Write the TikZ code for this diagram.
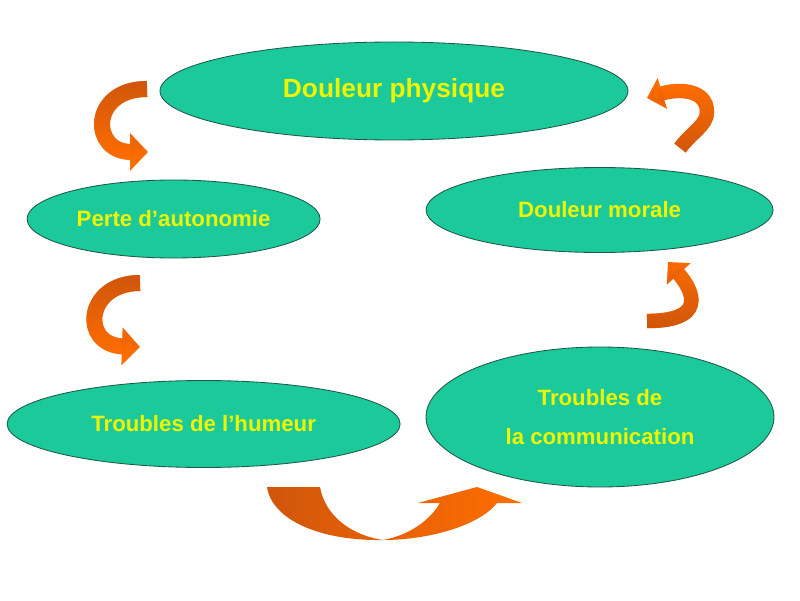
\documentclass[tikz,border=0pt]{standalone}
\usepackage{fontspec}
\setmainfont{Liberation Sans}
\usetikzlibrary{shapes.geometric, arrows.meta, fadings}
\definecolor{ovalfill}{HTML}{1CC99A}
\definecolor{ovalframe}{HTML}{1E5A4A}
\definecolor{ovaltext}{HTML}{EEF500}
\definecolor{arrdark}{HTML}{D0560C}
\definecolor{arrlight}{HTML}{FF6E00}
\newcommand{\ovalfont}{\bfseries}
\tikzfading[name=fadedown, top color=transparent!0, bottom color=transparent!100]
\tikzfading[name=fadeup, top color=transparent!100, bottom color=transparent!0]
\tikzset{
  oval/.style={
    ellipse,
    draw=ovalframe,
    fill=ovalfill,
    line width=0.6pt,
    inner sep=0pt,
    align=center,
    text=ovaltext,
    font=\fontsize{15.8}{28.3}\selectfont\ovalfont
  },
  bigoval/.style={oval, font=\fontsize{18.7}{22}\selectfont\ovalfont},
  curvarr/.style={arrlight, line width=0.4cm, -{Triangle[length=0.45cm, width=0.92cm]},
    postaction={draw, arrdark, path fading=#1}},
  smallarr/.style={curvarr=#1, line width=0.36cm, -{Triangle[length=0.4cm, width=0.78cm]}}
}

\begin{document}
\begin{tikzpicture}

  \fill[white] (0,0) rectangle (20,15);
  \useasboundingbox (0,0) rectangle (20,15);

  \node[bigoval, minimum width=11.7cm, minimum height=2.45cm] (phys) at (9.85,12.725) {Douleur physique};
  \node[oval, minimum width=7.325cm, minimum height=1.95cm] (auto) at (4.34,9.525) {Perte d’autonomie};
  \node[oval, minimum width=8.675cm, minimum height=2.125cm] (morale) at (14.99,9.75) {Douleur morale};
  \node[oval, minimum width=9.825cm, minimum height=2.175cm] (humeur) at (5.09,4.4) {Troubles de l’humeur};
  \node[oval, minimum width=8.7cm, minimum height=3.5cm] (comm) at (15.0,4.575) {Troubles de\\la communication};

  % curved arrows round the loop
  \coordinate (a1s) at (3.675,12.775);
  \coordinate (a1e) at (3.7,11.2);
  \draw[curvarr=fadedown] (a1s) .. controls (2.25,12.775) and (2.25,11.2) .. (a1e);

  \coordinate (a2s) at (3.5,7.925);
  \coordinate (a2e) at (3.5,6.325);
  \draw[curvarr=fadedown] (a2s) .. controls (2.125,7.925) and (2.0,6.375) .. (a2e);

  \coordinate (a4s) at (16.175,6.975);
  \coordinate (a4e) at (16.7,8.45);
  \draw[smallarr=fadeup] (a4s) .. controls (17.9,6.975) and (17.15,7.95) .. (a4e);

  \coordinate (a5s) at (17.0,11.3);
  \coordinate (a5m) at (17.675,12.2);
  \coordinate (a5e) at (16.175,12.55);
  \draw[smallarr=fadeup] (a5s) .. controls (17.3,11.7) and (17.675,11.875) .. (a5m)
    .. controls (17.675,12.75) and (17.0,12.8) .. (a5e);

  % bottom swoosh, humeur -> communication
  \shade[left color=arrdark, right color=arrlight]
    (6.675,2.825) -- (8.0,2.825)
    .. controls (8.125,2.125) and (8.75,1.625) .. (9.575,1.5)
    .. controls (10.25,1.625) and (10.75,2.0) .. (11.0,2.425)
    -- (10.45,2.425) -- (11.925,2.825) -- (13.05,2.425) -- (12.425,2.425)
    .. controls (12.0,1.875) and (10.75,1.5) .. (9.575,1.5)
    .. controls (8.0,1.475) and (6.8,2.0) .. (6.675,2.825) -- cycle;

\end{tikzpicture}
\end{document}
